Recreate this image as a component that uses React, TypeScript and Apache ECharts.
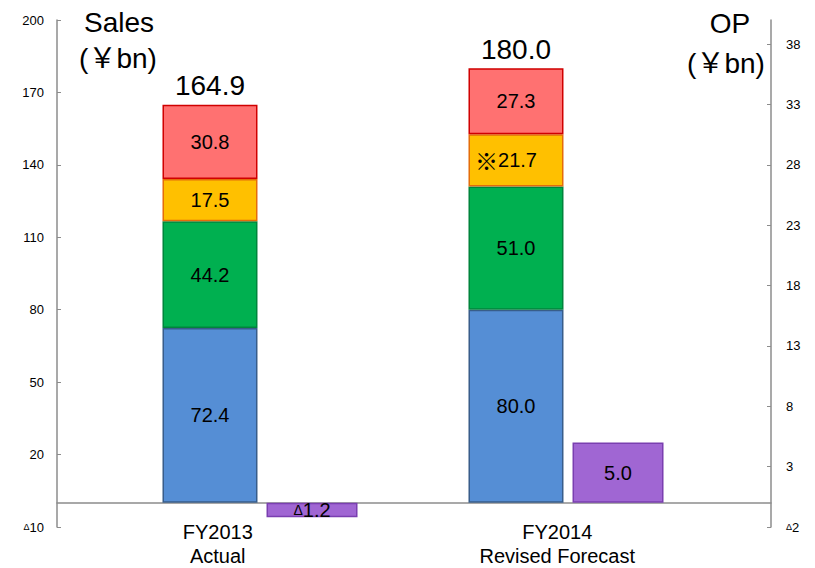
import React, { useEffect, useRef } from "react";
import * as echarts from "echarts";

const categories = ["FY2013\nActual", "FY2014\nRevised Forecast"];
const blueValues = [72.4, 80.0];
const greenValues = [44.2, 51.0];
const yellowValues = [17.5, 21.7];
const redValues = [30.8, 27.3];
const salesTotals = [164.9, 180.0];
const opValues = [-1.2, 5.0];
const yellowPrefix = ["", "※"];
const salesTicks = [-10, 20, 50, 80, 110, 140, 170, 200];
const opTicks = [-2, 3, 8, 13, 18, 23, 28, 33, 38];

const FONT = "Arial, 'Liberation Sans', 'Noto Sans CJK JP', sans-serif";
const AXIS_GRAY = "#8c8c8c";

const deltaFmt = (v: number, digits: number) =>
  v < 0 ? "{d|Δ}" + Math.abs(v).toFixed(digits) : v.toFixed(digits);

export default function App() {
  const ref = useRef<HTMLDivElement>(null);
  useEffect(() => {
    if (!ref.current) return;
    const chart = echarts.init(ref.current, undefined, { renderer: "svg" });

    const segLabel = (extra?: (i: number) => string) => ({
      show: true,
      position: "inside",
      fontSize: 20,
      color: "#000",
      fontFamily: FONT,
      formatter: (p: any) => {
        const pre = extra ? extra(p.dataIndex) : "";
        return (pre ? "{m|" + pre + "}" : "") + Number(p.value).toFixed(1);
      },
      rich: { m: { fontSize: 23, fontFamily: "'Noto Sans CJK JP', sans-serif", color: "#000" } },
    });

    const stackSeries = (name: string, data: any[], color: string, border: string, extra?: (i: number) => string) => ({
      name,
      type: "bar",
      xAxisIndex: 1,
      yAxisIndex: 2,
      stack: "sales",
      barWidth: 95,
      barGap: "9.5%",
      data,
      itemStyle: { color, borderColor: border, borderWidth: 1.5 },
      label: segLabel(extra),
    });

    const yellowData = yellowValues.map((v, i) =>
      yellowPrefix[i] ? { value: v, label: { offset: [-10, 0] } } : v
    );

    const axisLabelBase = { color: "#000", fontSize: 13, fontFamily: FONT, rich: { d: { fontSize: 9, fontFamily: FONT, color: "#000" } } };

    chart.setOption({
      animation: false,
      grid: [
        { left: 57, right: 44, top: 20, bottom: 41 },
        { left: 107, right: 96, top: 20, bottom: 41 },
        { left: 48, right: 88, top: 20, bottom: 53 },
      ],
      xAxis: [
        {
          type: "category",
          gridIndex: 0,
          data: categories,
          axisLine: { show: true, onZero: true, lineStyle: { color: AXIS_GRAY, width: 1.5 } },
          axisTick: { show: false },
          axisLabel: { show: false },
        },
        { type: "category", gridIndex: 1, data: categories, show: false },
        {
          type: "category",
          gridIndex: 2,
          data: categories,
          axisLine: { show: false, onZero: false },
          axisTick: { show: false },
          axisLabel: { margin: 6, fontSize: 20, lineHeight: 24, color: "#000", fontFamily: FONT },
        },
      ],
      yAxis: [
        {
          type: "value",
          gridIndex: 0,
          position: "left",
          min: -10,
          max: 200,
          interval: 30,
          splitLine: { show: false },
          axisLine: { show: true, lineStyle: { color: AXIS_GRAY, width: 1.5 } },
          axisTick: { show: true, inside: true, length: 4, customValues: salesTicks, lineStyle: { color: AXIS_GRAY } },
          axisLabel: { ...axisLabelBase, margin: 13, customValues: salesTicks, formatter: (v: number) => deltaFmt(v, 0) },
        },
        {
          type: "value",
          gridIndex: 0,
          position: "right",
          min: -2,
          max: 40,
          interval: 5,
          splitLine: { show: false },
          axisLine: { show: true, lineStyle: { color: AXIS_GRAY, width: 1.5 } },
          axisTick: { show: true, inside: true, length: 4, customValues: opTicks, lineStyle: { color: AXIS_GRAY } },
          axisLabel: { ...axisLabelBase, margin: 15, customValues: opTicks, formatter: (v: number) => deltaFmt(v, 0) },
        },
        { type: "value", gridIndex: 1, min: -10, max: 200, show: false },
        { type: "value", gridIndex: 1, min: -2, max: 40, show: false },
        { type: "value", gridIndex: 2, show: false },
      ],
      series: [
        stackSeries("Blue", blueValues, "#558ED5", "#385D8A"),
        stackSeries("Green", greenValues, "#00B050", "#00843C"),
        stackSeries("Yellow", yellowData, "#FFC000", "#E46C0A", (i) => yellowPrefix[i]),
        stackSeries("Red", redValues, "#FF7171", "#D00000"),
        {
          name: "Total",
          type: "bar",
          xAxisIndex: 1,
          yAxisIndex: 2,
          stack: "sales",
          barWidth: 95,
          barGap: "9.5%",
          data: salesTotals.map(() => 0),
          itemStyle: { color: "transparent", borderWidth: 0 },
          label: {
            show: true,
            position: "top",
            distance: 5,
            fontSize: 28,
            color: "#000",
            fontFamily: FONT,
            formatter: (p: any) => salesTotals[p.dataIndex].toFixed(1),
          },
        },
        {
          name: "OP",
          type: "bar",
          xAxisIndex: 1,
          yAxisIndex: 3,
          barWidth: 91,
          barGap: "9.5%",
          data: opValues,
          itemStyle: { color: "#A066D3", borderColor: "#7A3FB0", borderWidth: 1.5 },
          label: {
            show: true,
            position: "inside",
            fontSize: 20,
            color: "#000",
            fontFamily: FONT,
            formatter: (p: any) => deltaFmt(Number(p.value), 1),
            rich: { d: { fontSize: 14, fontFamily: FONT, color: "#000" } },
          },
        },
      ],
      graphic: [
        { type: "text", x: 119, y: 22, style: { text: "Sales", fontSize: 28, fontFamily: FONT, fill: "#000", textAlign: "center", textVerticalAlign: "middle" } },
        { type: "text", x: 118, y: 58, style: { text: "(￥bn)", fontSize: 28, fontFamily: FONT, fill: "#000", textAlign: "center", textVerticalAlign: "middle" } },
        { type: "text", x: 730, y: 23, style: { text: "OP", fontSize: 28, fontFamily: FONT, fill: "#000", textAlign: "center", textVerticalAlign: "middle" } },
        { type: "text", x: 726, y: 63, style: { text: "(￥bn)", fontSize: 28, fontFamily: FONT, fill: "#000", textAlign: "center", textVerticalAlign: "middle" } },
      ],
    });
    return () => chart.dispose();
  }, []);
  return <div ref={ref} style={{ position: "absolute", left: 0, top: 0, width: 815, height: 568 }} />;
}
